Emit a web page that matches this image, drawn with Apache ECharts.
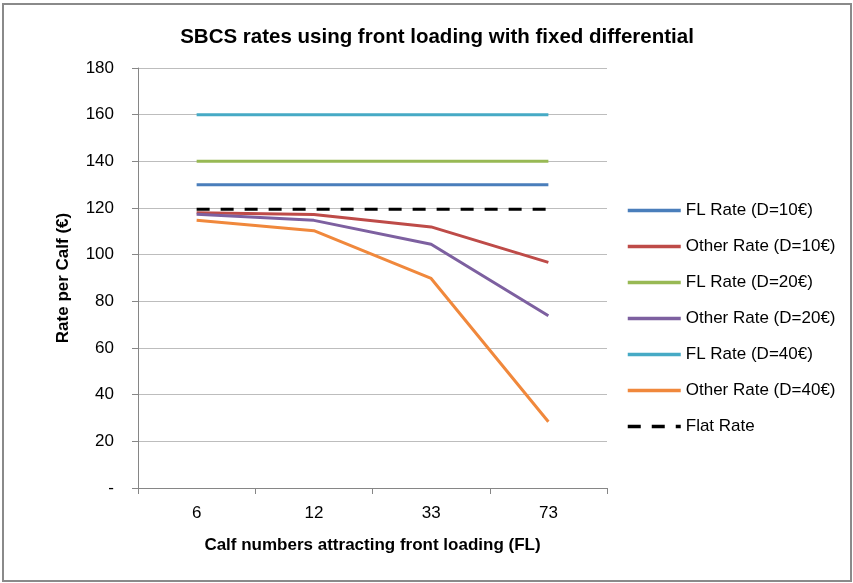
<!DOCTYPE html>
<html>
<head>
<meta charset="utf-8">
<script src="https://cdn.jsdelivr.net/npm/echarts@6/dist/echarts.min.js"></script>
<style>
html,body{margin:0;padding:0;background:#fff;}
#frame{position:absolute;left:2px;top:3px;width:846px;height:575px;border:2px solid #8a8a8a;}
#chart{position:absolute;left:0;top:0;width:853px;height:583px;}
</style>
</head>
<body>
<div id="frame"></div>
<div id="chart"></div>
<script>
const categories = ['6', '12', '33', '73'];
const flRate10 = [130, 130, 130, 130];
const otherRate10 = [118.0, 117.2, 111.9, 96.7];
const flRate20 = [140, 140, 140, 140];
const otherRate20 = [117.3, 114.7, 104.5, 73.8];
const flRate40 = [160, 160, 160, 160];
const otherRate40 = [114.7, 110.3, 89.8, 28.4];
const flatRate = [119.5, 119.5, 119.5, 119.5];
const yTicks = {min: 0, max: 180, interval: 20};

const FONT = "'Liberation Sans', Arial, sans-serif";
function line(name, data, color, dashed) {
  return {
    name: name, type: 'line', data: data, symbol: 'none', showSymbol: false,
    lineStyle: {color: color, width: 3, type: dashed ? [13, 11] : 'solid'},
    itemStyle: {color: color},
    emphasis: {disabled: true}, animation: false
  };
}
const chart = echarts.init(document.getElementById('chart'), null, {renderer: 'canvas'});
chart.setOption({
  animation: false,
  title: {
    text: 'SBCS rates using front loading with fixed differential',
    left: 432, top: 22, textAlign: 'center',
    textStyle: {fontFamily: FONT, fontSize: 20.5, fontWeight: 'bold', color: '#000'}
  },
  grid: {left: 138, right: 246, top: 68, bottom: 95, containLabel: false},
  legend: {
    orient: 'vertical', left: 626, top: 202, padding: 0,
    itemWidth: 53, itemHeight: 17, itemGap: 19,
    itemStyle: {opacity: 0},
    lineStyle: {width: 3.5},
    textStyle: {fontFamily: FONT, fontSize: 17, color: '#000'},
    data: ['FL Rate (D=10€)', 'Other Rate (D=10€)', 'FL Rate (D=20€)', 'Other Rate (D=20€)', 'FL Rate (D=40€)', 'Other Rate (D=40€)', 'Flat Rate']
  },
  xAxis: {
    type: 'category', data: categories, boundaryGap: true,
    name: 'Calf numbers attracting front loading (FL)', nameLocation: 'middle', nameGap: 49,
    nameTextStyle: {fontFamily: FONT, fontSize: 17, fontWeight: 'bold', color: '#000'},
    axisLine: {lineStyle: {color: '#868686', width: 1}},
    axisTick: {show: true, alignWithLabel: false, length: 6, lineStyle: {color: '#868686'}},
    axisLabel: {fontFamily: FONT, fontSize: 17, color: '#000', margin: 17}
  },
  yAxis: {
    type: 'value', min: yTicks.min, max: yTicks.max, interval: yTicks.interval,
    name: 'Rate per Calf (€)', nameLocation: 'middle', nameGap: 66, nameRotate: 90,
    nameTextStyle: {fontFamily: FONT, fontSize: 17, fontWeight: 'bold', color: '#000'},
    axisLine: {show: true, lineStyle: {color: '#868686', width: 1}},
    axisTick: {show: true, length: 6, lineStyle: {color: '#868686'}},
    splitLine: {lineStyle: {color: '#bdbdbd', width: 1}},
    axisLabel: {fontFamily: FONT, fontSize: 17, color: '#000', margin: 24,
      formatter: v => v === 0 ? '-' : String(v)}
  },
  series: [
    line('FL Rate (D=10€)', flRate10, '#4A7EBB'),
    line('Other Rate (D=10€)', otherRate10, '#BE4B48'),
    line('FL Rate (D=20€)', flRate20, '#98B954'),
    line('Other Rate (D=20€)', otherRate20, '#7D60A0'),
    line('FL Rate (D=40€)', flRate40, '#46AAC5'),
    line('Other Rate (D=40€)', otherRate40, '#F0883C'),
    line('Flat Rate', flatRate, '#000000', true)
  ]
});
</script>
</body>
</html>
